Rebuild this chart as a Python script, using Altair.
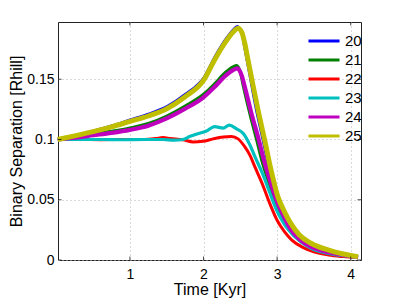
import altair as alt
import pandas as pd

# ---- data ----
series_names = ["20", "21", "22", "23", "24", "25"]
series_colors = ["#0000FF", "#008000", "#FF0000", "#00BFBF", "#BF00BF", "#BFBF00"]
series_widths = [1.6, 3.0, 3.0, 3.2, 4.2, 5.0]

t20 = [0.02, 0.25, 0.5, 0.75, 1.0, 1.25, 1.5, 1.75, 2.0, 2.15, 2.3, 2.4, 2.46, 2.51, 2.54, 2.58, 2.63, 2.71, 2.8, 2.89, 2.98, 3.07, 3.17, 3.33, 3.5, 3.7, 3.9, 4.1]
s20 = [0.1, 0.1035, 0.1075, 0.1118, 0.1167, 0.1215, 0.1278, 0.1380, 0.1518, 0.1690, 0.1838, 0.1915, 0.1944, 0.1895, 0.1800, 0.1670, 0.1505, 0.1246, 0.0997, 0.0740, 0.0526, 0.0400, 0.0295, 0.0190, 0.0125, 0.0078, 0.0048, 0.0025]

t21 = [0.02, 0.25, 0.5, 0.75, 1.0, 1.25, 1.5, 1.75, 2.0, 2.15, 2.3, 2.4, 2.45, 2.5, 2.535, 2.625, 2.72, 2.79, 2.875, 2.965, 3.075, 3.165, 3.28, 3.45, 3.7, 3.9, 4.1]
s21 = [0.1, 0.1022, 0.1044, 0.1068, 0.1096, 0.1133, 0.1195, 0.1278, 0.1376, 0.1462, 0.1558, 0.1603, 0.1614, 0.1560, 0.1460, 0.1225, 0.1000, 0.0830, 0.0665, 0.0500, 0.0350, 0.0250, 0.0175, 0.0110, 0.0064, 0.0041, 0.0025]

t22 = [0.02, 0.3, 0.6, 0.9, 1.2, 1.35, 1.45, 1.55, 1.72, 1.86, 1.99, 2.13, 2.27, 2.38, 2.47, 2.56, 2.63, 2.7, 2.8, 2.9, 3.0, 3.1, 3.2, 3.35, 3.5, 3.7, 3.9, 4.1]
s22 = [0.1, 0.1, 0.0998, 0.1, 0.1, 0.1008, 0.1016, 0.1008, 0.0997, 0.0980, 0.0985, 0.1005, 0.1020, 0.1024, 0.1005, 0.0940, 0.0870, 0.0770, 0.0630, 0.0470, 0.0330, 0.0235, 0.0165, 0.0105, 0.0068, 0.0042, 0.0028, 0.0018]

t23 = [0.02, 0.3, 0.6, 0.9, 1.2, 1.45, 1.6, 1.72, 1.81, 1.9, 2.04, 2.15, 2.27, 2.35, 2.45, 2.54, 2.63, 2.7, 2.8, 2.9, 3.0, 3.1, 3.24, 3.46, 3.7, 3.9, 4.1]
s23 = [0.1, 0.1, 0.1, 0.0998, 0.1, 0.1, 0.0995, 0.1, 0.1024, 0.1044, 0.1070, 0.1107, 0.1095, 0.1120, 0.1088, 0.1050, 0.0955, 0.0855, 0.0720, 0.0560, 0.0405, 0.0295, 0.0194, 0.0097, 0.0055, 0.0035, 0.0022]

t24 = [0.02, 0.25, 0.5, 0.75, 1.0, 1.25, 1.5, 1.75, 2.0, 2.15, 2.3, 2.4, 2.46, 2.52, 2.56, 2.65, 2.75, 2.82, 2.9, 2.99, 3.1, 3.19, 3.3, 3.46, 3.7, 3.9, 4.1]
s24 = [0.1, 0.1015, 0.1035, 0.1055, 0.1080, 0.1115, 0.1175, 0.1255, 0.1350, 0.1435, 0.1530, 0.1575, 0.1590, 0.1530, 0.1440, 0.1220, 0.1000, 0.0830, 0.0665, 0.0500, 0.0350, 0.0250, 0.0175, 0.0110, 0.0065, 0.0042, 0.0025]

t25 = [0.02, 0.25, 0.5, 0.75, 1.0, 1.25, 1.5, 1.75, 2.0, 2.15, 2.3, 2.4, 2.47, 2.52, 2.56, 2.6, 2.65, 2.74, 2.83, 2.92, 3.01, 3.1, 3.19, 3.3, 3.46, 3.7, 3.9, 4.1]
s25 = [0.1, 0.1030, 0.1065, 0.1105, 0.1150, 0.1195, 0.1255, 0.1355, 0.1490, 0.1660, 0.1810, 0.1890, 0.1924, 0.1890, 0.1800, 0.1675, 0.1520, 0.1246, 0.0997, 0.0740, 0.0526, 0.0400, 0.0300, 0.0210, 0.0139, 0.0082, 0.0050, 0.0028]

x_ticks = [1, 2, 3, 4]
y_ticks = [0, 0.05, 0.1, 0.15]

x_domain = [0.023, 4.14]
y_domain = [0, 0.1975]

FONT = "Liberation Sans"
W, H = 303, 238

all_t = [t20, t21, t22, t23, t24, t25]
all_s = [s20, s21, s22, s23, s24, s25]

xscale = alt.Scale(domain=x_domain, nice=False, zero=False)
yscale = alt.Scale(domain=y_domain, nice=False, zero=False)
cscale = alt.Scale(domain=series_names, range=series_colors)

layers = []
for i, name in enumerate(series_names):
    df = pd.DataFrame({"t": all_t[i], "v": all_s[i], "run": name})
    enc = dict(
        x=alt.X("t:Q", scale=xscale,
                axis=alt.Axis(values=x_ticks, title="Time [Kyr]", format="d",
                              grid=True, ticks=False, domain=False,
                              labelFontSize=14, titleFontSize=16,
                              labelPadding=7, titlePadding=0)),
        y=alt.Y("v:Q", scale=yscale,
                axis=alt.Axis(values=y_ticks, title="Binary Separation [Rhill]", format="~g",
                              grid=True, ticks=False, domain=False,
                              labelFontSize=14, titleFontSize=16,
                              labelPadding=4, titlePadding=2)),
        color=alt.Color("run:N", scale=cscale,
                        legend=alt.Legend(orient="none", legendX=255, legendY=8, title=None,
                                          symbolType="M-1.67,0H1.67", symbolSize=346,
                                          symbolStrokeWidth=3, labelFontSize=15,
                                          labelOffset=10, padding=0, rowPadding=0,
                                          labelColor="black")),
    )
    layers.append(
        alt.Chart(df).mark_line(strokeWidth=series_widths[i], interpolate="monotone").encode(**enc)
    )

# inward tick marks on all four sides
xt = pd.DataFrame({"t": x_ticks})
yt = pd.DataFrame({"v": y_ticks})
tick_bottom = alt.Chart(xt).mark_tick(clip=True, color="black", size=7, thickness=1, orient="vertical").encode(
    x=alt.X("t:Q", scale=xscale), y=alt.value(H))
tick_top = alt.Chart(xt).mark_tick(clip=True, color="black", size=7, thickness=1, orient="vertical").encode(
    x=alt.X("t:Q", scale=xscale), y=alt.value(0))
tick_left = alt.Chart(yt).mark_tick(clip=True, color="black", size=7, thickness=1, orient="horizontal").encode(
    y=alt.Y("v:Q", scale=yscale), x=alt.value(0))
tick_right = alt.Chart(yt).mark_tick(clip=True, color="black", size=7, thickness=1, orient="horizontal").encode(
    y=alt.Y("v:Q", scale=yscale), x=alt.value(W))

chart = alt.layer(*layers, tick_bottom, tick_top, tick_left, tick_right).properties(
    width=W, height=H,
    autosize=alt.AutoSizeParams(type="none"),
    padding={"left": 50, "top": 14, "right": 30, "bottom": 38},
).configure_view(
    stroke="#222222", strokeWidth=1
).configure_axis(
    gridColor="#b4b4b4", gridDash=[1, 3], gridWidth=1,
    labelFont=FONT, titleFont=FONT, labelColor="black", titleColor="black",
    titleFontWeight="normal"
).configure_legend(
    labelFont=FONT
)

chart.save("out.html", embed_options={"renderer": "svg", "actions": False})
